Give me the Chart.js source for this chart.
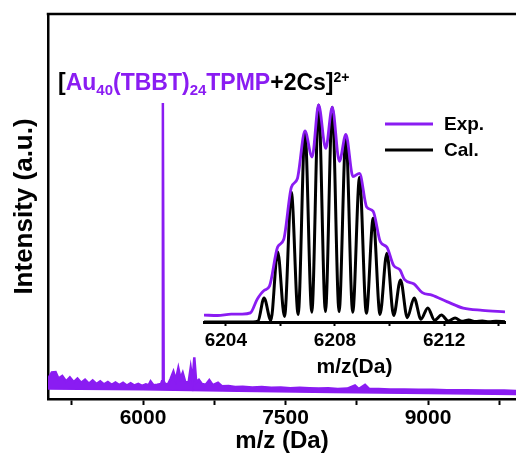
<!DOCTYPE html>
<html>
<head>
<meta charset="utf-8">
<script src="https://cdn.jsdelivr.net/npm/chart.js@4.4.0/dist/chart.umd.min.js"></script>
<style>
  html, body { margin: 0; padding: 0; background: #fff; }
  #wrap { position: relative; width: 516px; height: 457px; }
  #mainChart { position: absolute; left: 0; top: 0; }
  #insetChart { position: absolute; left: 190px; top: 80px; }
</style>
</head>
<body>
<div id="wrap">
  <canvas id="mainChart" width="516" height="457"></canvas>
  <canvas id="insetChart" width="326" height="300"></canvas>
</div>
<script>
// full spectrum: upper edge of the trace
const mainMz = [5000, 5040, 5080, 5110, 5150, 5190, 5230, 5270, 5310, 5350, 5390, 5430, 5470, 5510,
  5550, 5590, 5630, 5670, 5710, 5750, 5790, 5830, 5870, 5910, 5950, 5990, 6030, 6060, 6080, 6110,
  6150, 6190, 6200, 6209, 6218, 6230, 6260, 6290, 6320, 6345, 6372, 6395, 6418, 6445, 6480, 6502,
  6522, 6540, 6560, 6588, 6620, 6660, 6698, 6735, 6789, 6830, 6900, 6970, 7050, 7150, 7250, 7350,
  7450, 7550, 7650, 7750, 7850, 7950, 8050, 8150, 8231, 8270, 8337, 8380, 8480, 8600, 8750, 8900,
  9050, 9200, 9400, 9600, 9800, 9926];
const mainTop = [5.2, 6.9, 7.0, 5.3, 6.0, 4.6, 5.6, 4.4, 5.3, 4.2, 5.0, 4.0, 4.8, 3.9,
  4.6, 3.8, 4.4, 3.7, 4.3, 3.6, 4.2, 3.5, 4.1, 3.5, 3.9, 3.4, 3.8, 3.6, 4.6, 3.6,
  3.7, 3.9, 4.6, 76.9, 4.6, 4.0, 3.7, 5.2, 7.1, 4.9, 8.0, 5.4, 6.8, 4.4, 4.3, 8.1,
  4.7, 10.8, 4.4, 5.0, 3.9, 3.7, 4.9, 3.6, 4.2, 3.3, 3.4, 3.1, 3.2, 3.0, 3.1, 2.9,
  3.0, 2.8, 2.9, 2.8, 2.7, 2.8, 2.6, 2.7, 3.5, 2.6, 3.7, 2.6, 2.6, 2.5, 2.5, 2.4,
  2.4, 2.3, 2.3, 2.2, 2.2, 2.1];
// lower edge of the trace
const floorMz = [5000, 6000, 7000, 8000, 9000, 9926];
const floorVal = [2.6, 2.4, 2.0, 1.7, 1.4, 1.2];

// inset: isotope pattern
const expMz = [6203.2, 6203.7, 6204.2, 6204.6, 6204.9, 6205.15, 6205.4, 6205.6, 6205.9, 6206.12,
  6206.4, 6206.62, 6206.9, 6207.16, 6207.4, 6207.66, 6207.9, 6208.16, 6208.4, 6208.66, 6208.9,
  6209.16, 6209.4, 6209.66, 6209.9, 6210.15, 6210.38, 6210.55, 6210.9, 6211.2, 6211.55, 6212.1,
  6212.7, 6213.4, 6214.23];
const expInt = [3.2, 3.0, 3.6, 3.6, 4.2, 10.5, 14.5, 16.5, 34.6, 38,
  62, 66, 88, 76, 100, 80, 99, 74, 86.5, 67, 68.5,
  53, 51, 37, 34.5, 26, 24, 19.5, 17.5, 13.5, 12.4, 9.4,
  6.4, 5.4, 4.7];
const calMz = [6203.2, 6205.0, 6205.18, 6205.4, 6205.65, 6205.9, 6206.15, 6206.4, 6206.65, 6206.9,
  6207.15, 6207.4, 6207.65, 6207.9, 6208.15, 6208.4, 6208.65, 6208.9, 6209.15, 6209.4, 6209.65,
  6209.9, 6210.15, 6210.4, 6210.65, 6210.9, 6211.15, 6211.4, 6211.65, 6211.9, 6212.15, 6212.4,
  6212.65, 6212.9, 6213.15, 6213.4, 6213.65, 6213.9, 6214.23];
const calInt = [0, 0, 0.4, 11.1, 0.8, 32.4, 2.5, 59.9, 3.5, 87.7,
  4.5, 100, 4.8, 98.9, 4.8, 85.7, 4.5, 66.7, 4.0, 47.8, 3.5,
  31.7, 3.0, 19.4, 2.0, 11.1, 1.3, 6.5, 0.8, 3.2, 0.5, 1.8,
  0.3, 0.9, 0.2, 0.5, 0.1, 0.3, 0.1];

const mainTicks = [5250, 6000, 6750, 7500, 8250, 9000, 9750];
const mainLabels = [6000, 7500, 9000];
const insetTicks = [6204, 6206, 6208, 6210, 6212, 6214];
const insetLabels = [6204, 6208, 6212];

const purple = '#8a1cf2';
const FONT = '"Liberation Sans", Arial, sans-serif';

const pts = (xs, ys) => xs.map((x, i) => ({ x: x, y: ys[i] }));

// frame top line, formula label and legend
const decorPlugin = {
  id: 'decor',
  afterDraw(chart) {
    const ctx = chart.ctx;
    const area = chart.chartArea;
    ctx.save();
    ctx.strokeStyle = '#000';
    ctx.lineWidth = 2.5;
    ctx.beginPath();
    ctx.moveTo(area.left - 1.25, area.top);
    ctx.lineTo(chart.width, area.top);
    ctx.stroke();

    // [Au40(TBBT)24TPMP+2Cs]2+
    const parts = [
      { t: '[', c: '#000', k: 'n' },
      { t: 'Au', c: purple, k: 'n' },
      { t: '40', c: purple, k: 'sub' },
      { t: '(TBBT)', c: purple, k: 'n' },
      { t: '24', c: purple, k: 'sub' },
      { t: 'TPMP', c: purple, k: 'n' },
      { t: '+2Cs]', c: '#000', k: 'n' },
      { t: '2+', c: '#000', k: 'sup' }
    ];
    let x = 58;
    const base = 90;
    ctx.textBaseline = 'alphabetic';
    ctx.textAlign = 'left';
    parts.forEach(p => {
      let size = 23, dy = 0;
      if (p.k === 'sub') { size = 15; dy = 5; }
      if (p.k === 'sup') { size = 14; dy = -8; }
      ctx.font = 'bold ' + size + 'px ' + FONT;
      ctx.fillStyle = p.c;
      ctx.fillText(p.t, x, base + dy);
      x += ctx.measureText(p.t).width;
    });

    // legend
    const legend = [{ t: 'Exp.', c: purple, y: 124 }, { t: 'Cal.', c: '#000', y: 150 }];
    ctx.font = 'bold 19px ' + FONT;
    ctx.textBaseline = 'middle';
    legend.forEach(l => {
      ctx.strokeStyle = l.c;
      ctx.lineWidth = 3;
      ctx.beginPath();
      ctx.moveTo(385, l.y);
      ctx.lineTo(433, l.y);
      ctx.stroke();
      ctx.fillStyle = '#000';
      ctx.fillText(l.t, 444, l.y + 1);
    });
    ctx.restore();
  }
};

new Chart(document.getElementById('mainChart'), {
  type: 'line',
  data: {
    datasets: [
      {
        data: pts(floorMz, floorVal),
        borderColor: purple,
        borderWidth: 1.5,
        pointRadius: 0,
        fill: false
      },
      {
        data: pts(mainMz, mainTop),
        borderColor: purple,
        backgroundColor: purple,
        borderWidth: 2.5,
        pointRadius: 0,
        fill: '-1'
      }
    ]
  },
  options: {
    responsive: false,
    animation: false,
    layout: { padding: { top: 14, right: 0, left: 0, bottom: 0 } },
    plugins: { legend: { display: false }, tooltip: { enabled: false } },
    scales: {
      x: {
        type: 'linear',
        min: 5000,
        max: 9926,
        afterBuildTicks: s => { s.ticks = mainTicks.map(v => ({ value: v })); },
        afterFit: s => { s.height = 58; },
        border: { display: true, color: '#000', width: 2.5 },
        grid: { display: true, drawOnChartArea: false, drawTicks: true, tickLength: 6, tickWidth: 2, color: '#000' },
        ticks: {
          autoSkip: false,
          maxRotation: 0,
          padding: 1,
          color: '#000',
          font: { family: FONT, size: 21, weight: 'bold' },
          callback: v => mainLabels.includes(v) ? String(v) : ''
        },
        title: {
          display: true,
          text: 'm/z (Da)',
          color: '#000',
          font: { family: FONT, size: 24, weight: 'bold' },
          padding: { top: 0, bottom: 1 }
        }
      },
      y: {
        min: 0,
        max: 100,
        afterFit: s => { s.width = 48; },
        border: { display: true, color: '#000', width: 2.5 },
        grid: { display: false },
        ticks: { display: false },
        title: {
          display: true,
          text: 'Intensity (a.u.)',
          color: '#000',
          font: { family: FONT, size: 26, weight: 'bold' },
          padding: { top: 9, bottom: 0 }
        }
      }
    }
  },
  plugins: [decorPlugin]
});

new Chart(document.getElementById('insetChart'), {
  type: 'line',
  data: {
    datasets: [
      {
        label: 'Exp.',
        data: pts(expMz, expInt),
        borderColor: purple,
        borderWidth: 2.8,
        pointRadius: 0,
        cubicInterpolationMode: 'monotone',
        order: 0
      },
      {
        label: 'Cal.',
        data: pts(calMz, calInt),
        borderColor: '#000',
        borderWidth: 3,
        pointRadius: 0,
        cubicInterpolationMode: 'monotone',
        order: 1
      }
    ]
  },
  options: {
    responsive: false,
    animation: false,
    layout: { padding: { top: 15, right: 11, left: 14, bottom: 0 } },
    plugins: { legend: { display: false }, tooltip: { enabled: false } },
    scales: {
      x: {
        type: 'linear',
        min: 6203.2,
        max: 6214.23,
        afterBuildTicks: s => { s.ticks = insetTicks.map(v => ({ value: v })); },
        afterFit: s => { s.height = 58; },
        border: { display: true, color: '#000', width: 3 },
        grid: { display: true, drawOnChartArea: false, drawTicks: true, tickLength: 4, tickWidth: 2, color: '#000' },
        ticks: {
          autoSkip: false,
          maxRotation: 0,
          padding: 3,
          color: '#000',
          font: { family: FONT, size: 19, weight: 'bold' },
          callback: v => insetLabels.includes(v) ? String(v) : ''
        },
        title: {
          display: true,
          text: 'm/z(Da)',
          color: '#000',
          font: { family: FONT, size: 21, weight: 'bold' },
          padding: { top: 0, bottom: 0 }
        }
      },
      y: { display: false, min: 0, max: 104.6 }
    }
  }
});
</script>
</body>
</html>
